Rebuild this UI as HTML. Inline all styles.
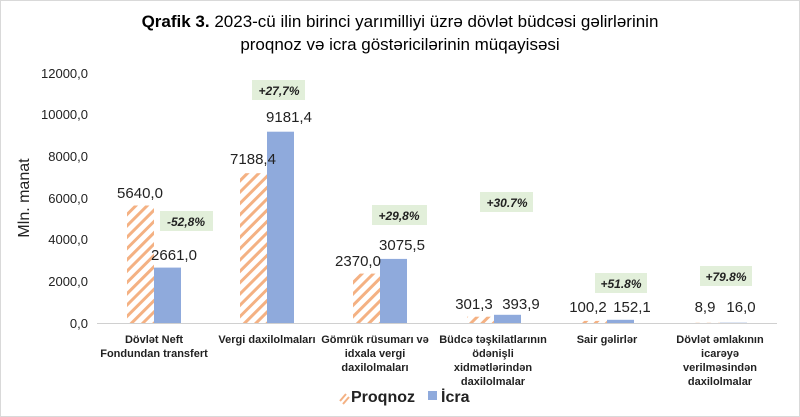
<!DOCTYPE html>
<html><head><meta charset="utf-8"><style>
html,body{margin:0;padding:0;background:#fff}
svg{display:block;font-family:"Liberation Sans",Arial,sans-serif}
</style></head><body>
<svg width="800" height="417" viewBox="0 0 800 417">
<defs>
<pattern id="h" patternUnits="userSpaceOnUse" width="8" height="8" patternTransform="rotate(45)">
<rect width="8" height="8" fill="#fff"/><rect width="3" height="8" fill="#f4b183"/>
</pattern>
</defs>
<rect x="0.5" y="0.5" width="799" height="416" fill="#fff" stroke="#d9d9d9"/>
<text x="400" y="27" text-anchor="middle" font-size="17" fill="#000"><tspan font-weight="bold">Qrafik 3.</tspan> 2023-cü ilin birinci yarımilliyi üzrə dövlət büdcəsi gəlirlərinin</text>
<text x="400" y="50" text-anchor="middle" font-size="17" fill="#000">proqnoz və icra göstəricilərinin müqayisəsi</text>
<g font-size="13" fill="#222" text-anchor="end">
<text x="88" y="78">12000,0</text><text x="88" y="119">10000,0</text><text x="88" y="161">8000,0</text>
<text x="88" y="203">6000,0</text><text x="88" y="244">4000,0</text><text x="88" y="286">2000,0</text><text x="88" y="328">0,0</text>
</g>
<text transform="translate(29,198) rotate(-90)" text-anchor="middle" font-size="16" fill="#222">Mln. manat</text>
<line x1="97" y1="323.5" x2="777" y2="323.5" stroke="#d0d0d0"/>
<g>
<rect x="127" y="205.5" width="27" height="117.5" fill="url(#h)"/><rect x="154" y="267.6" width="27" height="55.4" fill="#8faadc"/>
<rect x="240" y="173.2" width="27" height="149.8" fill="url(#h)"/><rect x="267" y="131.7" width="27" height="191.3" fill="#8faadc"/>
<rect x="353" y="273.6" width="27" height="49.4" fill="url(#h)"/><rect x="380" y="258.9" width="27" height="64.1" fill="#8faadc"/>
<rect x="467" y="316.7" width="27" height="6.3" fill="url(#h)"/><rect x="494" y="314.8" width="27" height="8.2" fill="#8faadc"/>
<rect x="580" y="320.9" width="27" height="2.1" fill="url(#h)"/><rect x="607" y="319.8" width="27" height="3.2" fill="#8faadc"/>
<rect x="693" y="322.8" width="27" height="0.2" fill="url(#h)"/><rect x="720" y="322.7" width="27" height="0.3" fill="#8faadc"/>
</g>
<g font-size="15" fill="#222" text-anchor="middle">
<text x="140" y="198">5640,0</text><text x="174" y="260">2661,0</text>
<text x="253" y="164">7188,4</text><text x="289" y="122">9181,4</text>
<text x="358" y="266">2370,0</text><text x="402" y="250">3075,5</text>
<text x="474" y="309">301,3</text><text x="521" y="309">393,9</text>
<text x="588" y="312">100,2</text><text x="632" y="312">152,1</text>
<text x="705" y="312">8,9</text><text x="741" y="312">16,0</text>
</g>
<g font-size="12" font-weight="bold" font-style="italic" fill="#222" text-anchor="middle">
<rect x="160" y="211" width="53" height="20" fill="#e2efda"/><text x="186" y="226">-52,8%</text>
<rect x="252" y="80" width="53" height="20" fill="#e2efda"/><text x="279" y="95">+27,7%</text>
<rect x="372" y="205" width="55" height="20" fill="#e2efda"/><text x="399" y="220">+29,8%</text>
<rect x="480" y="192" width="53" height="20" fill="#e2efda"/><text x="507" y="207">+30.7%</text>
<rect x="595" y="273" width="52" height="20" fill="#e2efda"/><text x="621" y="288">+51.8%</text>
<rect x="700" y="266" width="52" height="20" fill="#e2efda"/><text x="726" y="281">+79.8%</text>
</g>
<g font-size="11" font-weight="bold" fill="#222" text-anchor="middle">
<text x="154" y="343">Dövlət Neft</text><text x="154" y="357">Fondundan transfert</text>
<text x="267" y="343">Vergi daxilolmaları</text>
<text x="375" y="343">Gömrük rüsumarı və</text><text x="375" y="357">idxala vergi</text><text x="375" y="371">daxilolmaları</text>
<text x="493" y="343">Büdcə təşkilatlarının</text><text x="493" y="357">ödənişli</text><text x="493" y="371">xidmətlərindən</text><text x="493" y="385">daxilolmalar</text>
<text x="607" y="343">Sair gəlirlər</text>
<text x="720" y="343">Dövlət əmlakının</text><text x="720" y="357">icarəyə</text><text x="720" y="371">verilməsindən</text><text x="720" y="385">daxilolmalar</text>
</g>
<path d="M340 401 l6 -7 M343 404 l6 -7" stroke="#f4b183" stroke-width="2"/>
<text x="351" y="402" font-size="16" font-weight="bold" fill="#222">Proqnoz</text>
<rect x="428" y="391" width="9" height="9" fill="#8faadc"/>
<text x="441" y="402" font-size="16" font-weight="bold" fill="#222">İcra</text>
</svg>
</body></html>
